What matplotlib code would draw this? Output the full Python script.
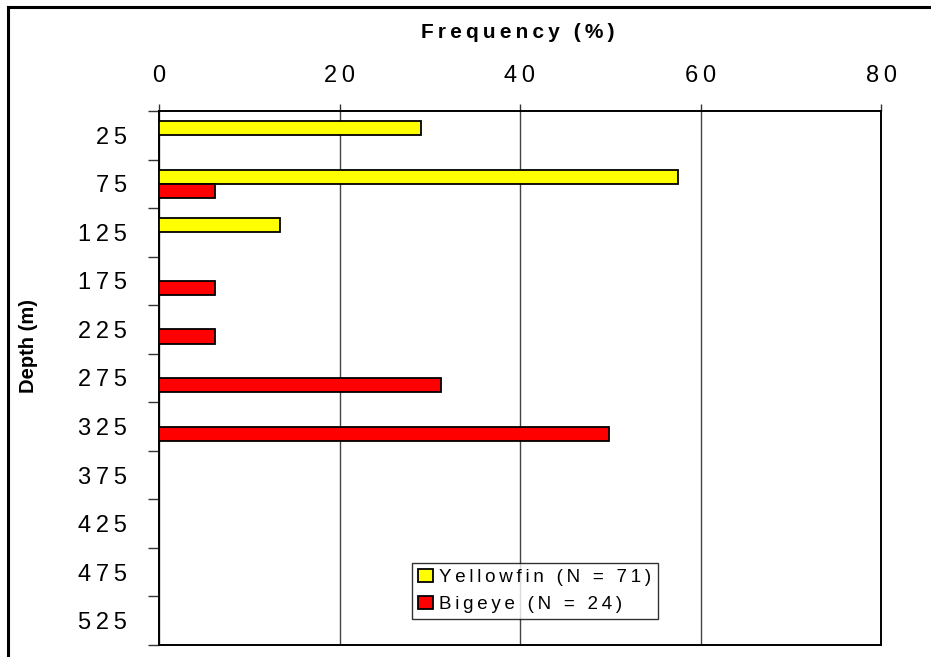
import matplotlib
matplotlib.use("Agg")
import matplotlib.pyplot as plt
import numpy as np
from matplotlib.lines import Line2D

depths = ["25", "75", "125", "175", "225", "275", "325", "375", "425", "475", "525"]
yellowfin = [29.0, 57.5, 13.4, 0, 0, 0, 0, 0, 0, 0, 0]
bigeye = [0, 6.2, 0, 6.2, 6.2, 31.2, 49.9, 0, 0, 0, 0]
x_ticks = [0, 20, 40, 60, 80]


def spaced(text, gap="\u2009"):
    return gap.join(text)


plt.rcParams["font.family"] = ["Liberation Sans", "DejaVu Sans"]

fig = plt.figure(figsize=(9.31, 6.57), dpi=100)
ax = fig.add_axes([159 / 931, 1 - 645 / 657, (881 - 159) / 931, (645 - 111) / 657])

y = np.arange(len(depths))
h = 0.29
yf = np.array(yellowfin)
be = np.array(bigeye)
ax.barh(y[yf > 0] - h / 2, yf[yf > 0], height=h, color="#ffff00",
        edgecolor="black", linewidth=1.3, zorder=3,
        label=spaced("Yellowfin (N = 71)"))
ax.barh(y[be > 0] + h / 2, be[be > 0], height=h, color="#ff0000",
        edgecolor="black", linewidth=1.3, zorder=3,
        label=spaced("Bigeye (N = 24)"))

ax.set_xlim(0, 80)
ax.set_ylim(len(depths) - 0.5, -0.5)
ax.xaxis.tick_top()
ax.set_xticks(x_ticks)
ax.set_xticklabels([spaced(str(v)) for v in x_ticks], fontsize=17)
ax.tick_params(axis="x", length=5, width=1, color="#333333", pad=12)
ax.grid(axis="x", color="#444444", linewidth=1, zorder=1)

ax.set_yticks(y)
ax.set_yticklabels([spaced(d) for d in depths], fontsize=17)
ax.tick_params(axis="y", which="major", length=0, pad=23)
ax.set_yticks(np.arange(len(depths) + 1) - 0.5, minor=True)
ax.tick_params(axis="y", which="minor", length=8, width=1, color="#333333")

for side in ["left", "top", "right", "bottom"]:
    ax.spines[side].set_linewidth(1.4)
    ax.spines[side].set_color("black")

fig.text(518 / 931, 1 - 33 / 657, spaced("Frequency (%)"), fontsize=15,
         fontweight="bold", ha="center", va="center")
fig.text(29 / 931, 1 - 346 / 657, "Depth (m)", fontsize=14.5, fontweight="bold",
         rotation=90, ha="center", va="center")

leg = ax.legend(loc="lower left", bbox_to_anchor=((412 - 159) / 722, (645 - 619) / 534),
                fontsize=13.5, frameon=True, fancybox=False, shadow=False,
                handlelength=0.8, handleheight=0.7, handletextpad=0.3,
                borderpad=0.34, labelspacing=0.5, borderaxespad=0)
leg.get_frame().set_edgecolor("black")
leg.get_frame().set_linewidth(1)

# outer frame: only the top and left edges fall inside the picture
fig.add_artist(Line2D([8 / 931, 1.0], [1 - 7 / 657] * 2, transform=fig.transFigure,
                      color="black", linewidth=2.2))
fig.add_artist(Line2D([8 / 931] * 2, [0.0, 1 - 7 / 657], transform=fig.transFigure,
                      color="black", linewidth=2.2))

fig.savefig("out.png", dpi=100)
